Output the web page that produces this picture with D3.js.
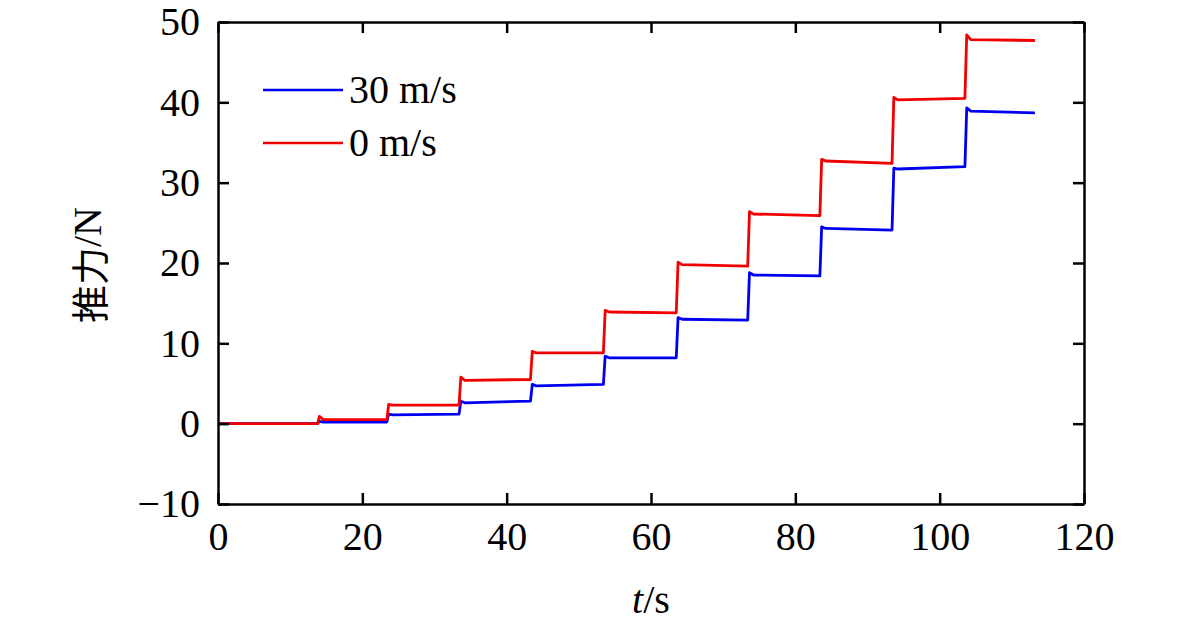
<!DOCTYPE html>
<html>
<head>
<meta charset="utf-8">
<script src="https://cdn.jsdelivr.net/npm/d3@7"></script>
<style>
body { margin: 0; background: #fff; }
svg { display: block; }
.axis text { font-family: "Liberation Serif", "Times New Roman", serif; font-size: 40px; fill: #000; }
.axis path, .axis line { stroke: #000; stroke-width: 2.5; }
</style>
</head>
<body>
<svg id="chart"></svg>
<script>
var svg_width = 1181, svg_height = 629;
var margin = { top: 22, right: 97, bottom: 125, left: 218 };
var width = svg_width - margin.left - margin.right;
var height = svg_height - margin.top - margin.bottom;

// step times (s), last entry = end of record
var stepTimes = [0, 13.8, 23.4, 33.4, 43.3, 53.4, 63.5, 73.4, 83.4, 93.4, 103.5, 113.2];

// thrust (N): peak right after each jump, level once settled, level at end of step
var redSpike  = [0, 0.9, 2.4, 5.8, 9.0, 14.1, 20.1, 26.4, 32.9, 40.6, 48.4];
var redStart  = [0, 0.5, 2.3, 5.4, 8.8, 13.9, 19.8, 26.1, 32.7, 40.3, 47.8];
var redEnd    = [0, 0.5, 2.3, 5.5, 8.8, 13.8, 19.6, 25.9, 32.4, 40.5, 47.7];
var blueSpike = [0, 0.3, 1.2, 2.8, 4.9, 8.4, 13.2, 18.8, 24.5, 31.8, 39.3];
var blueStart = [0, 0.2, 1.1, 2.6, 4.7, 8.2, 13.0, 18.5, 24.3, 31.7, 38.9];
var blueEnd   = [0, 0.2, 1.2, 2.8, 4.9, 8.2, 12.9, 18.4, 24.1, 32.0, 38.7];

var xTicks = [0, 20, 40, 60, 80, 100, 120];
var yTicks = [-10, 0, 10, 20, 30, 40, 50];

var series = [
	{ name: "30 m/s", color: "#0000f0", spike: blueSpike, start: blueStart, end: blueEnd },
	{ name: "0 m/s", color: "#f00000", spike: redSpike, start: redStart, end: redEnd }
];

var x = d3.scaleLinear().domain([0, 120]).range([0, width]);
var y = d3.scaleLinear().domain([-10, 50]).range([height, 0]);

function stepPoints(s) {
	var pts = [];
	for (var i = 0; i < s.start.length; i++) {
		if (i > 0) {
			pts.push([stepTimes[i], s.end[i - 1]]);
			pts.push([stepTimes[i] + 0.25, s.spike[i]]);
			pts.push([stepTimes[i] + 0.8, s.start[i]]);
		} else {
			pts.push([stepTimes[i], s.start[i]]);
		}
		pts.push([stepTimes[i + 1], s.end[i]]);
	}
	return pts;
}

var svg = d3.select("#chart")
	.attr("width", svg_width)
	.attr("height", svg_height);

var g = svg.append("g")
	.attr("transform", "translate(" + margin.left + "," + margin.top + ")");

var line = d3.line()
	.x(function (d) { return x(d[0]); })
	.y(function (d) { return y(d[1]); });

series.forEach(function (s) {
	g.append("path")
		.datum(stepPoints(s))
		.attr("fill", "none")
		.attr("stroke", s.color)
		.attr("stroke-width", 2.8)
		.attr("stroke-linejoin", "round")
		.attr("d", line);
});

// axes, ticks pointing inward on all four sides
g.append("g")
	.attr("class", "axis")
	.attr("transform", "translate(0," + height + ")")
	.call(d3.axisBottom(x).tickValues(xTicks).tickSizeInner(-11).tickSizeOuter(0).tickPadding(18));

g.append("g")
	.attr("class", "axis")
	.call(d3.axisLeft(y).tickValues(yTicks).tickSizeInner(-11).tickSizeOuter(0).tickPadding(18));

g.append("g")
	.attr("class", "axis")
	.call(d3.axisTop(x).tickValues(xTicks).tickSizeInner(-11).tickSizeOuter(0).tickFormat(""));

g.append("g")
	.attr("class", "axis")
	.attr("transform", "translate(" + width + ",0)")
	.call(d3.axisRight(y).tickValues(yTicks).tickSizeInner(-11).tickSizeOuter(0).tickFormat(""));

// legend
var legend = g.append("g").attr("transform", "translate(45,68)");
series.forEach(function (s, i) {
	var row = legend.append("g").attr("transform", "translate(0," + (i * 53) + ")");
	row.append("line")
		.attr("x1", 0).attr("x2", 80)
		.attr("stroke", s.color)
		.attr("stroke-width", 2.5);
	row.append("text")
		.attr("x", 86)
		.attr("y", 13)
		.attr("font-family", "Liberation Serif, serif")
		.attr("font-size", 40)
		.text(s.name);
});

// axis titles
var xt = svg.append("text")
	.attr("x", margin.left + x(60))
	.attr("y", 613)
	.attr("text-anchor", "middle")
	.attr("font-family", "Liberation Serif, serif")
	.attr("font-size", 40);
xt.append("tspan").attr("font-style", "italic").text("t");
xt.append("tspan").text("/s");

var yt = svg.append("text")
	.attr("transform", "translate(87," + (margin.top + y(20) + 2) + ") rotate(-90)")
	.attr("text-anchor", "middle")
	.attr("dominant-baseline", "central")
	.attr("font-size", 40);
yt.append("tspan").attr("font-family", "Noto Sans CJK SC").attr("font-size", 38).text("推力");
yt.append("tspan").attr("font-family", "Liberation Serif, serif").text("/N");
</script>
</body>
</html>
